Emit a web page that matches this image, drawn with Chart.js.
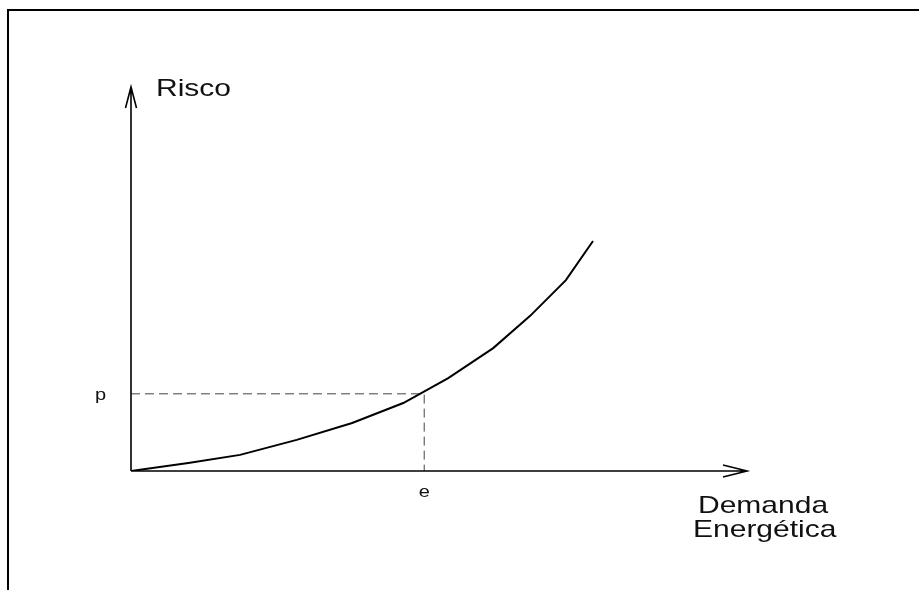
<!DOCTYPE html>
<html>
<head>
<meta charset="utf-8">
<script src="https://cdn.jsdelivr.net/npm/chart.js@4"></script>
<style>
  html, body { margin: 0; padding: 0; background: #fff; }
  #wrap { width: 919px; height: 590px; }
</style>
</head>
<body>
<div id="wrap"><canvas id="chartRisco" width="919" height="590"></canvas></div>
<script>
// curva risco x demanda energética (unidades 0-100)
const demanda = [0, 9.3, 17.7, 26.9, 35.9, 44.2, 51.5, 58.8, 64.8, 70.6, 75.0];
const risco = [0, 2.1, 4.2, 8.1, 12.5, 17.7, 24.2, 32.0, 40.4, 49.7, 59.9];
// ponto marcado (e, p)
const pontoE = 47.6;
const pontoP = 20.1;
const eixoMax = 100;
const rotulos = { y: 'Risco', x: ['Demanda', 'Energética'], p: 'p', e: 'e' };

const FONTE = '"Liberation Sans", Arial, sans-serif';

function textoEsticado(ctx, txt, x, y, size, align) {
  ctx.save();
  ctx.font = size + 'px ' + FONTE;
  ctx.fillStyle = '#111';
  ctx.textBaseline = 'alphabetic';
  const w = ctx.measureText(txt).width * 1.25;
  let x0 = x;
  if (align === 'center') x0 = x - w / 2;
  ctx.translate(x0, y);
  ctx.scale(1.25, 1);
  ctx.textAlign = 'left';
  ctx.fillText(txt, 0, 0);
  ctx.restore();
}

const desenhoPlugin = {
  id: 'desenho',
  beforeDraw(chart) {
    const ctx = chart.ctx;
    ctx.save();
    ctx.fillStyle = '#fff';
    ctx.fillRect(0, 0, chart.width, chart.height);
    // moldura (só topo e esquerda)
    ctx.strokeStyle = '#000';
    ctx.lineWidth = 2;
    ctx.beginPath();
    ctx.moveTo(8, 590);
    ctx.lineTo(8, 10);
    ctx.lineTo(919, 10);
    ctx.stroke();
    ctx.restore();
  },
  afterDatasetsDraw(chart) {
    const ctx = chart.ctx;
    const sx = chart.scales.x;
    const sy = chart.scales.y;
    const x0 = sx.getPixelForValue(0);
    const y0 = sy.getPixelForValue(0);
    const xTop = sx.getPixelForValue(eixoMax);
    const yTop = sy.getPixelForValue(eixoMax);

    ctx.save();
    ctx.strokeStyle = '#000';
    ctx.lineWidth = 1.6;
    ctx.lineCap = 'butt';
    ctx.beginPath();
    // eixo y + seta
    ctx.moveTo(x0, y0);
    ctx.lineTo(x0, yTop);
    ctx.moveTo(x0 - 5.5, yTop + 21);
    ctx.lineTo(x0, yTop);
    ctx.lineTo(x0 + 5.5, yTop + 21);
    // eixo x + seta
    ctx.moveTo(x0, y0);
    ctx.lineTo(xTop, y0);
    ctx.moveTo(xTop - 24, y0 - 6);
    ctx.lineTo(xTop, y0);
    ctx.lineTo(xTop - 24, y0 + 6);
    ctx.stroke();
    ctx.restore();

    textoEsticado(ctx, rotulos.y, x0 + 25, yTop + 9, 24);
    textoEsticado(ctx, rotulos.x[0], xTop - 49, y0 + 42, 24);
    textoEsticado(ctx, rotulos.x[1], xTop - 54, y0 + 66, 24);
    textoEsticado(ctx, rotulos.p, x0 - 36, sy.getPixelForValue(pontoP) + 6, 16);
    textoEsticado(ctx, rotulos.e, sx.getPixelForValue(pontoE), y0 + 26, 16, 'center');
  },
};

const ctx = document.getElementById('chartRisco');
new Chart(ctx, {
  type: 'scatter',
  data: {
    datasets: [
      {
        data: demanda.map((d, i) => ({ x: d, y: risco[i] })),
        showLine: true,
        borderColor: '#000',
        borderWidth: 2,
        pointRadius: 0,
        tension: 0,
        fill: false,
      },
      {
        data: [{ x: 0, y: pontoP }, { x: pontoE, y: pontoP }, { x: pontoE, y: 0 }],
        showLine: true,
        borderColor: '#444',
        borderWidth: 1,
        borderDash: [9, 5],
        pointRadius: 0,
        tension: 0,
        fill: false,
      },
    ],
  },
  options: {
    responsive: false,
    animation: false,
    layout: { padding: { left: 131, right: 172, top: 87, bottom: 119 } },
    plugins: { legend: { display: false }, tooltip: { enabled: false } },
    scales: {
      x: { type: 'linear', min: 0, max: eixoMax, display: false },
      y: { type: 'linear', min: 0, max: eixoMax, display: false },
    },
  },
  plugins: [desenhoPlugin],
});
</script>
</body>
</html>
